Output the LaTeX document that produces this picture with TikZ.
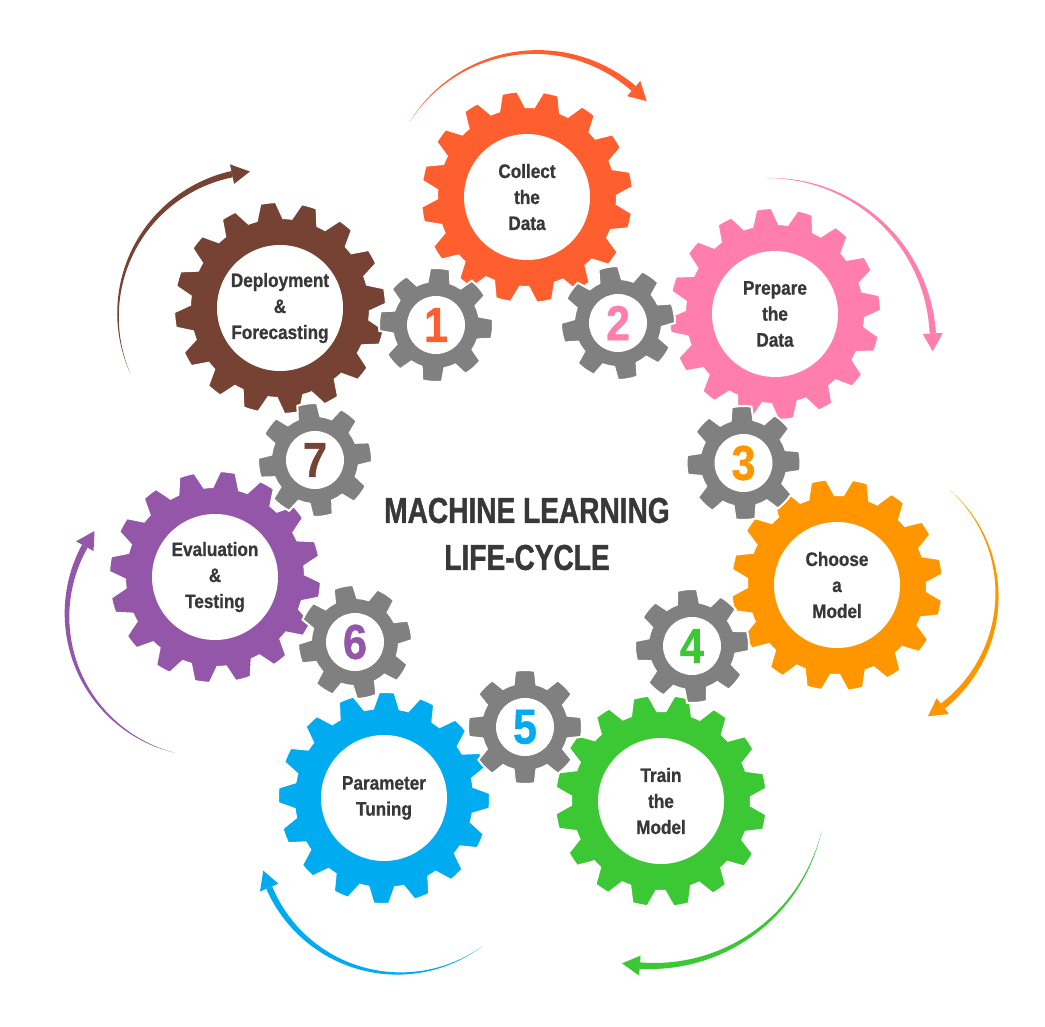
\documentclass[tikz,border=0pt]{standalone}
\usepackage{fontspec}
\newfontfamily\gearfont[FakeStretch=0.88,FakeBold=0.8]{Liberation Sans}
\newfontfamily\titlefont[FakeStretch=0.78,FakeBold=1]{Liberation Sans}
\definecolor{collectcol}{RGB}{255,94,46}
\definecolor{preparecol}{RGB}{255,126,171}
\definecolor{choosecol}{RGB}{255,150,0}
\definecolor{traincol}{RGB}{60,199,52}
\definecolor{tunecol}{RGB}{0,171,240}
\definecolor{evalcol}{RGB}{148,86,168}
\definecolor{deploycol}{RGB}{118,66,52}
\definecolor{cog}{RGB}{128,128,128}
\definecolor{ink}{RGB}{56,56,56}

% style, centre, teeth, turn, root, tip, half base, half tip
\newcommand{\gearbody}[8]{%
  \fill[#1, shift={(#2)}] ({#4-#7}:#5)
    \foreach \k [evaluate=\k as \a using #4+(\k-1)*360/#3] in {1,...,#3}{
      -- ({\a-#8}:#6) arc[start angle={\a-#8}, end angle={\a+#8}, radius=#6]
      -- ({\a+#7}:#5) arc[start angle={\a+#7}, end angle={\a+360/#3-#7}, radius=#5]
    } -- cycle;}
\newcommand{\biggear}[3]{\gearbody{#1,cogedge}{#2}{16}{#3}{90pt}{106pt}{8.5}{4.2}}
\newcommand{\smallgear}[2]{\gearbody{cog,cogedge}{#1}{8}{#2}{44pt}{57pt}{15}{10}}
% colour, pivot, radius, start angle, end angle
\newcommand{\turnarrow}[5]{%
  \fill[#1, shift={(#2)}]
    plot[domain=#4:#5, samples=60, variable=\t] (\t:{#3+3.2*(\t-#4)/(#5-#4)})
    -- plot[domain=#5:#4, samples=60, variable=\t] (\t:{#3-3.2*(\t-#4)/(#5-#4)}) -- cycle;
  \fill[#1, shift={(#2)}] ({#5}:{#3+10}) -- ({#5-18/#3*57.3}:{#3}) -- ({#5}:{#3-10}) -- cycle;}

\begin{document}
\begin{tikzpicture}[x=1pt,y=1pt,
    cogedge/.style={draw=white,line width=2pt},
    hub/.style={circle,fill=white,minimum size=126pt,inner sep=0pt,align=center,text=ink,
      font=\gearfont\bfseries\fontsize{19.5}{26}\selectfont},
    core/.style={circle,fill=white,minimum size=58pt,inner sep=0pt,
      font=\gearfont\bfseries\fontsize{49}{49}\selectfont},
    heading/.style={align=center,text=ink,font=\titlefont\bfseries\fontsize{36}{47}\selectfont}]
\path[use as bounding box,fill=white] (0,0) rectangle (1045,-1027);

\coordinate (pcollect) at (527,-197);
\coordinate (pprepare) at (775,-314);
\coordinate (pchoose) at (837,-585);
\coordinate (ptrain) at (661,-801);
\coordinate (ptune) at (384,-798);
\coordinate (peval) at (215,-577);
\coordinate (pdeploy) at (280,-308);
\coordinate (p1) at (436,-325);
\coordinate (p2) at (618,-323);
\coordinate (p3) at (743.5,-463);
\coordinate (p4) at (692,-646);
\coordinate (p5) at (525,-727);
\coordinate (p6) at (355,-642);
\coordinate (p7) at (315,-460);

\turnarrow{collectcol}{536,-201}{149}{148}{49}
\turnarrow{preparecol}{769,-342}{164}{91}{3}
\turnarrow{choosecol}{856,-595}{141}{48}{-52}
\turnarrow{traincol}{652,-792}{174}{-13}{-94}
\turnarrow{tunecol}{399,-832.5}{141}{-54}{-157}
\turnarrow{evalcol}{209,-615}{142}{256}{151}
\turnarrow{deploycol}{262,-315}{144}{204}{102}

\biggear{collectcol}{pcollect}{9.5}
\biggear{preparecol}{pprepare}{6}
\biggear{choosecol}{pchoose}{10}
\biggear{traincol}{ptrain}{11}
\biggear{tunecol}{ptune}{21}
\biggear{evalcol}{peval}{15.5}
\biggear{deploycol}{pdeploy}{6.5}

\smallgear{p1}{-4}
\smallgear{p2}{10}
\smallgear{p3}{2}
\smallgear{p4}{5}
\smallgear{p5}{0}
\smallgear{p6}{12}
\smallgear{p7}{8}

\node[hub] (collect) at (pcollect) {Collect\\the\\Data};
\node[hub] (prepare) at (pprepare) {Prepare\\the\\Data};
\node[hub] (choose) at (pchoose) {Choose\\a\\Model};
\node[hub] (train) at (ptrain) {Train\\the\\Model};
\node[hub] (tune) at (ptune) {Parameter\\Tuning};
\node[hub] (eval) at (peval) {Evaluation\\\&\\Testing};
\node[hub] (deploy) at (pdeploy) {Deployment\\\&\\Forecasting};

\node[core,text=collectcol] (one) at (p1) {1};
\node[core,text=preparecol] (two) at (p2) {2};
\node[core,text=choosecol] (three) at (p3) {3};
\node[core,text=traincol] (four) at (p4) {4};
\node[core,text=tunecol] (five) at (p5) {5};
\node[core,text=evalcol] (six) at (p6) {6};
\node[core,text=deploycol] (seven) at (p7) {7};

\node[heading] (title) at (527,-534) {MACHINE LEARNING\\LIFE-CYCLE};
\end{tikzpicture}
\end{document}
